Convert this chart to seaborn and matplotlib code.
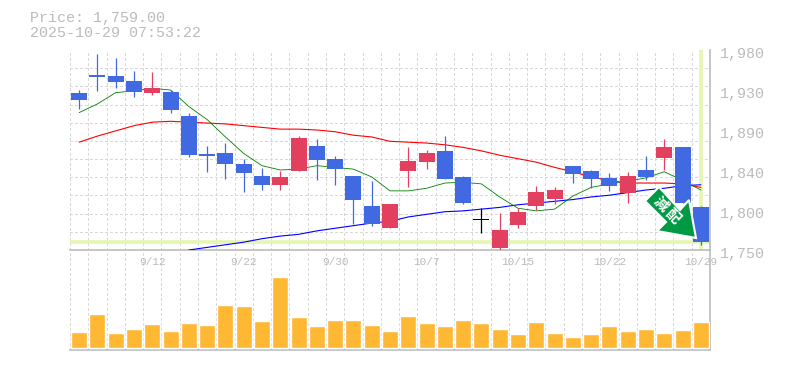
import numpy as np
import pandas as pd
import matplotlib
matplotlib.use("Agg")
import matplotlib.pyplot as plt
from matplotlib.patches import Polygon
from matplotlib.transforms import ScaledTranslation
import seaborn as sns

# candles, oldest first
open_ = [1931, 1951, 1950, 1944, 1931, 1932, 1904, 1860, 1862, 1849, 1835, 1825,
         1841, 1870, 1855, 1835, 1801, 1775, 1841, 1851, 1864, 1834, 1784, 1752,
         1779, 1801, 1809, 1847, 1841, 1833, 1816, 1842, 1856, 1868, 1799]
high = [1934, 1975, 1971, 1956, 1955, 1934, 1908, 1870, 1873, 1855, 1844, 1841,
        1881, 1878, 1858, 1835, 1829, 1803, 1868, 1865, 1881, 1835, 1798, 1793,
        1798, 1824, 1822, 1847, 1842, 1839, 1840, 1858, 1878, 1868, 1801]
low = [1912, 1933, 1936, 1926, 1928, 1908, 1857, 1840, 1832, 1817, 1819, 1819,
       1841, 1831, 1825, 1780, 1778, 1775, 1822, 1843, 1832, 1803, 1770, 1750,
       1775, 1796, 1803, 1827, 1821, 1818, 1804, 1831, 1842, 1804, 1756]
close = [1923, 1949, 1943, 1932, 1936, 1911, 1859, 1858, 1849, 1839, 1825, 1834,
         1879, 1854, 1843, 1808, 1780, 1803, 1852, 1862, 1832, 1804, 1784, 1773,
         1794, 1817, 1819, 1837, 1832, 1824, 1835, 1834, 1868, 1804, 1759]
volume = [16, 34, 15, 19, 24, 17, 25, 23, 43, 42, 27, 71, 31, 22, 28, 28, 23, 17,
          32, 25, 22, 28, 25, 19, 14, 26, 15, 11, 14, 22, 17, 19, 15, 18, 26]

ma_short = [1908, 1918, 1931, 1933, 1936, 1934, 1915, 1900, 1880, 1861, 1847, 1842,
            1843, 1847, 1845, 1843, 1834, 1818, 1818, 1821, 1827, 1828, 1826, 1811,
            1798, 1795, 1797, 1812, 1822, 1826, 1829, 1833, 1840, 1830, 1819]
ma_mid = [1874, 1881, 1887, 1893, 1897, 1898, 1897, 1896, 1895, 1893, 1891, 1889,
          1889, 1888, 1886, 1882, 1880, 1875, 1874, 1873, 1871, 1868, 1864, 1859,
          1855, 1851, 1845, 1840, 1834, 1830, 1827, 1827, 1827, 1826, 1822]
ma_long = [np.nan] * 6 + [1750, 1753, 1756, 1759, 1763, 1766,
           1768, 1772, 1775, 1778, 1781, 1783, 1788, 1791, 1794, 1795, 1797, 1799,
           1802, 1804, 1806, 1808, 1811, 1813, 1816, 1819, 1821, 1824, 1825]

price_ticks = [1750, 1796, 1842, 1888, 1934, 1980]
price_labels = ["1,750", "1,800", "1,840", "1,890", "1,930", "1,980"]
date_pos = [4, 9, 14, 19, 24, 29, 34]
date_labels = ["9/12", "9/22", "9/30", "10/7", "10/15", "10/22", "10/29"]
last_price = 1759

BLUE = "#4169E1"
RED = "#E3405F"
GREEN = "#008000"
ORANGE = "#FFB833"
GRAY = "#BBBBBB"
GRID = "#D8D8D8"
LAST = "#E6F5B0"
MONO = "Liberation Mono"

sns.set_style("white")
plt.rcParams["font.family"] = [MONO, "Noto Sans CJK JP", "DejaVu Sans"]

W, H = 785, 370
fig = plt.figure(figsize=(W / 100, H / 100), dpi=100, facecolor="w")
ax_vol = fig.add_axes([70 / W, (H - 350) / H, 640 / W, 100 / H])
ax = fig.add_axes([70 / W, (H - 250) / H, 640 / W, 200 / H])

x = np.arange(len(close))
edges = np.arange(-0.5, 35, 1)

df = pd.DataFrame({"x": x, "short": ma_short, "mid": ma_mid, "long": ma_long})

# moving averages sit under the candles
for name, col, width in [("long", "#0000FF", 0.8), ("mid", "#FF0000", 0.8), ("short", GREEN, 0.6)]:
    sns.lineplot(data=df, x="x", y=name, color=col, linewidth=width, estimator=None,
                 ax=ax, zorder=3)

# current price marker
ax.axhline(last_price, color=LAST, lw=2.6, zorder=2)
ax.axvline(x[-1], color=LAST, lw=2.6, zorder=2)

for i in x:
    o, h, l, c = open_[i], high[i], low[i], close[i]
    col = RED if c > o else BLUE if c < o else "black"
    ax.vlines(i, l, h, color=col, lw=0.9, zorder=4)
    ax.bar(i, max(abs(c - o), 1.2), bottom=min(o, c), width=0.875, color=col,
           lw=0, zorder=5)

sns.barplot(x=x, y=volume, native_scale=True, width=0.875, color=ORANGE,
            saturation=1, ax=ax_vol, zorder=3)

ax.set_xlim(-0.5, 34.5)
ax.set_ylim(1750, 1980)
ax_vol.set_xlim(-0.5, 34.5)
ax_vol.set_ylim(-2, 98)
ax.set_xlabel("")
ax.set_ylabel("")
ax_vol.set_xlabel("")
ax_vol.set_ylabel("")

ax.patch.set_alpha(0)
ax_vol.set_yticks([])
ax_vol.set_xticks([])
ax_vol.set_xticks(edges, minor=True)
ax_vol.tick_params(which="both", length=0)
ax_vol.grid(which="minor", axis="x", color=GRID, lw=0.75, ls=(0, (2.5, 2.5)), antialiased=False)
ax_vol.set_axisbelow(True)

ax.yaxis.tick_right()
ax.set_yticks(price_ticks, price_labels)
ax.set_yticks(np.linspace(1750, 1980, 12), minor=True)
ax.set_xticks(date_pos, date_labels)
ax.set_xticks(edges, minor=True)
ax.tick_params(which="both", length=0)
ax.tick_params(axis="y", labelsize=10.8, labelcolor=GRAY, pad=7.4)
ax.tick_params(axis="x", labelsize=8, labelcolor=GRAY, pad=5)
ax.grid(which="minor", color=GRID, lw=0.75, ls=(0, (2.5, 2.5)), antialiased=False)
ax.grid(which="major", visible=False)
ax.set_axisbelow(True)

down = ScaledTranslation(0, -2 / 72, fig.dpi_scale_trans)
for lab in ax.get_yticklabels():
    lab.set_transform(lab.get_transform() + down)

for a in (ax, ax_vol):
    for side in ("left", "top"):
        a.spines[side].set_visible(False)
    for side in ("right", "bottom"):
        a.spines[side].set_color(GRAY)
        a.spines[side].set_linewidth(1.2)

# overlay in pixels for the header and the signal arrow
top = fig.add_axes([0, 0, 1, 1])
top.set_xlim(0, W)
top.set_ylim(H, 0)
top.axis("off")
top.text(30, 18, "Price: 1,759.00", fontsize=10.8, color=GRAY, va="center", family=MONO)
top.text(30, 33, "2025-10-29 07:53:22", fontsize=10.8, color=GRAY, va="center", family=MONO)

arrow = [(659, 187), (645, 201), (666, 222), (657, 231), (696, 238), (689, 200), (680, 210)]
top.add_patch(Polygon(arrow, closed=True, fc="#009944", ec="w", lw=1.5, zorder=6))
top.text(661, 204, "減", fontsize=10.5, color="w", rotation=-45, ha="center", va="center",
         family="Noto Sans CJK JP", fontweight="bold", zorder=7, rotation_mode="anchor")
top.text(673, 216, "配", fontsize=10.5, color="w", rotation=-45, ha="center", va="center",
         family="Noto Sans CJK JP", fontweight="bold", zorder=7, rotation_mode="anchor")

fig.savefig("out.png", dpi=100)
